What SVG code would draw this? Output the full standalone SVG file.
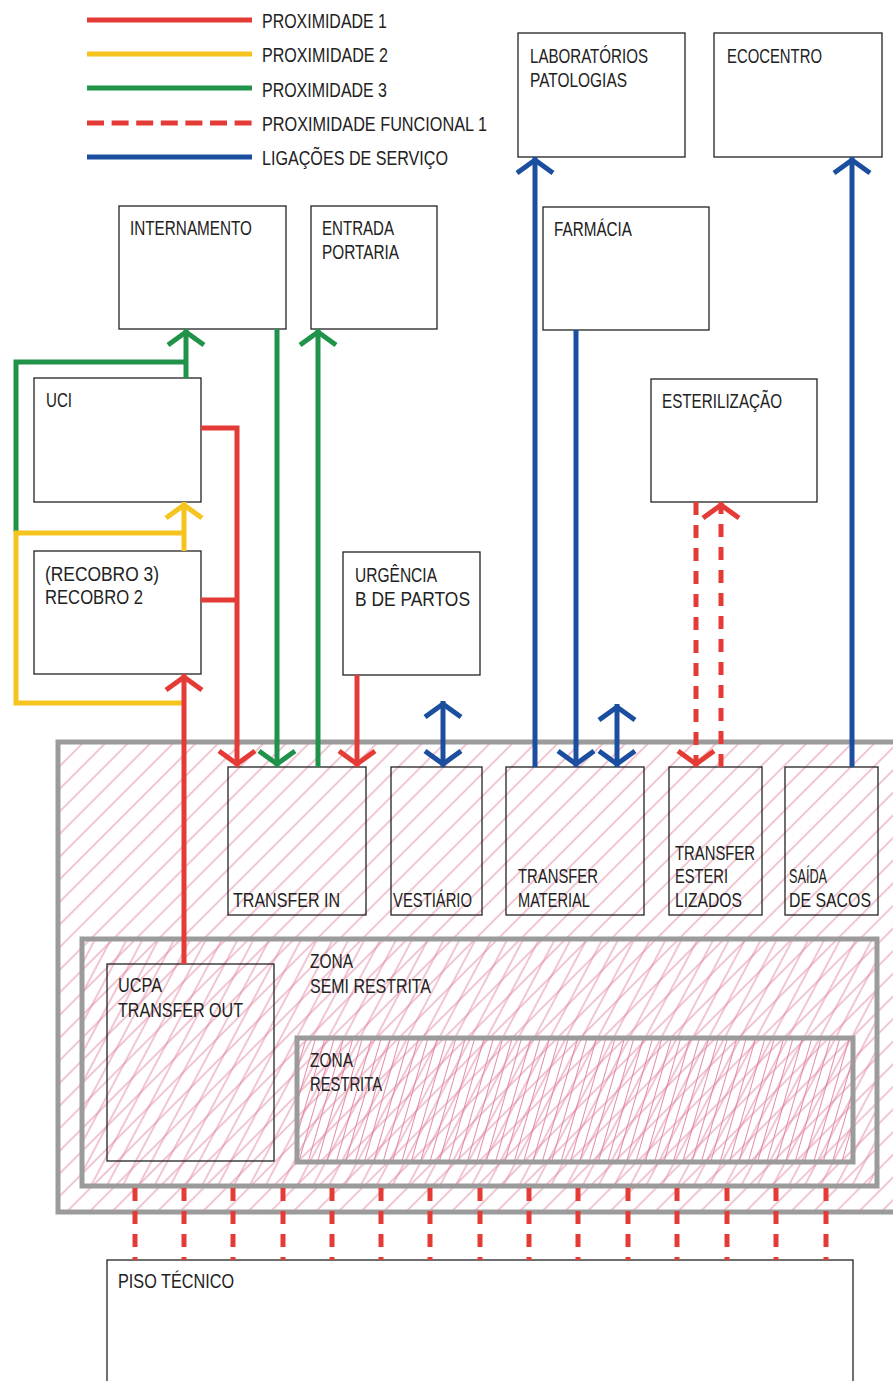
<svg xmlns="http://www.w3.org/2000/svg" width="893" height="1381" viewBox="0 0 893 1381">
<style>
text{font-family:"Liberation Sans",Arial,sans-serif;font-size:21px;fill:#222}
.box{fill:none;stroke:#222;stroke-width:1.3}
.zone{stroke:#9b9b9b;stroke-width:5}
.c{fill:none;stroke-width:5}
.r{stroke:#e53b36}
.y{stroke:#f6c41f}
.g{stroke:#20924a}
.b{stroke:#1b4e9f}
.d{stroke-dasharray:13 10}
</style>
<defs>
<pattern id="hA" width="16" height="16" patternUnits="userSpaceOnUse" patternTransform="rotate(45)"><line x1="8" y1="0" x2="8" y2="16" stroke="#e07f9c" stroke-width="0.9"/></pattern>
<pattern id="hB" width="14" height="14" patternUnits="userSpaceOnUse" patternTransform="rotate(28)"><line x1="7" y1="0" x2="7" y2="14" stroke="#e07f9c" stroke-width="0.9"/></pattern>
<pattern id="hC" width="9" height="9" patternUnits="userSpaceOnUse" patternTransform="rotate(16)"><line x1="4.5" y1="0" x2="4.5" y2="9" stroke="#e07f9c" stroke-width="0.9"/></pattern>
<marker id="mR" viewBox="-20 -20 40 40" markerWidth="40" markerHeight="40" markerUnits="userSpaceOnUse" refX="3" refY="0" orient="auto-start-reverse"><path d="M-13,-18 L0,0 L-13,18" fill="none" stroke="#e53b36" stroke-width="5"/></marker>
<marker id="mY" viewBox="-20 -20 40 40" markerWidth="40" markerHeight="40" markerUnits="userSpaceOnUse" refX="3" refY="0" orient="auto-start-reverse"><path d="M-13,-18 L0,0 L-13,18" fill="none" stroke="#f6c41f" stroke-width="5"/></marker>
<marker id="mG" viewBox="-20 -20 40 40" markerWidth="40" markerHeight="40" markerUnits="userSpaceOnUse" refX="3" refY="0" orient="auto-start-reverse"><path d="M-13,-18 L0,0 L-13,18" fill="none" stroke="#20924a" stroke-width="5"/></marker>
<marker id="mB" viewBox="-20 -20 40 40" markerWidth="40" markerHeight="40" markerUnits="userSpaceOnUse" refX="3" refY="0" orient="auto-start-reverse"><path d="M-13,-18 L0,0 L-13,18" fill="none" stroke="#1b4e9f" stroke-width="5"/></marker>
</defs>
<rect width="893" height="1381" fill="#fff"/>

<g id="legend">
<line class="c r" x1="87" y1="20" x2="252" y2="20"/>
<line class="c y" x1="87" y1="54" x2="252" y2="54"/>
<line class="c g" x1="87" y1="88" x2="252" y2="88"/>
<line class="c r" x1="87" y1="123" x2="252" y2="123" stroke-dasharray="17 7.6"/>
<line class="c b" x1="87" y1="157" x2="252" y2="157"/>
<text x="262" y="28" textLength="125" lengthAdjust="spacingAndGlyphs">PROXIMIDADE 1</text>
<text x="262" y="62" textLength="126" lengthAdjust="spacingAndGlyphs">PROXIMIDADE 2</text>
<text x="262" y="97" textLength="125" lengthAdjust="spacingAndGlyphs">PROXIMIDADE 3</text>
<text x="262" y="131" textLength="225" lengthAdjust="spacingAndGlyphs">PROXIMIDADE FUNCIONAL 1</text>
<text x="262" y="165" textLength="186" lengthAdjust="spacingAndGlyphs">LIGAÇÕES DE SERVIÇO</text>
</g>

<g id="zones">
<rect x="58" y="742" width="835" height="470" fill="url(#hA)"/>
<rect x="82" y="939" width="795" height="247" fill="url(#hB)"/>
<rect x="297" y="1038" width="556" height="124" fill="url(#hC)"/>
<path class="zone" d="M893,742 H58 V1212 H893" fill="none"/>
<g id="zona-semi-restrita">
<rect class="zone" x="82" y="939" width="795" height="247" fill="none"/>
<text x="310" y="968" textLength="43" lengthAdjust="spacingAndGlyphs">ZONA</text>
<text x="310" y="993" textLength="121" lengthAdjust="spacingAndGlyphs">SEMI RESTRITA</text>
</g>
<g id="zona-restrita">
<rect class="zone" x="297" y="1038" width="556" height="124" fill="none"/>
<text x="310" y="1067" textLength="43" lengthAdjust="spacingAndGlyphs">ZONA</text>
<text x="310" y="1091" textLength="72" lengthAdjust="spacingAndGlyphs">RESTRITA</text>
</g>
</g>

<g id="laboratorios"><rect class="box" x="518" y="33" width="167" height="124"/><text x="530" y="63" textLength="118" lengthAdjust="spacingAndGlyphs">LABORATÓRIOS</text><text x="530" y="87" textLength="97" lengthAdjust="spacingAndGlyphs">PATOLOGIAS</text></g>
<g id="ecocentro"><rect class="box" x="714" y="33" width="168" height="124"/><text x="727" y="63" textLength="95" lengthAdjust="spacingAndGlyphs">ECOCENTRO</text></g>
<g id="internamento"><rect class="box" x="119" y="206" width="167" height="123"/><text x="130" y="235" textLength="122" lengthAdjust="spacingAndGlyphs">INTERNAMENTO</text></g>
<g id="entrada"><rect class="box" x="311" y="206" width="126" height="123"/><text x="322" y="235" textLength="72" lengthAdjust="spacingAndGlyphs">ENTRADA</text><text x="322" y="259" textLength="77" lengthAdjust="spacingAndGlyphs">PORTARIA</text></g>
<g id="farmacia"><rect class="box" x="543" y="207" width="166" height="123"/><text x="554" y="236" textLength="78" lengthAdjust="spacingAndGlyphs">FARMÁCIA</text></g>
<g id="uci"><rect class="box" x="34" y="378" width="167" height="124"/><text x="46" y="407" textLength="26" lengthAdjust="spacingAndGlyphs">UCI</text></g>
<g id="esterilizacao"><rect class="box" x="651" y="379" width="166" height="123"/><text x="662" y="408" textLength="120" lengthAdjust="spacingAndGlyphs">ESTERILIZAÇÃO</text></g>
<g id="recobro"><rect class="box" x="34" y="551" width="167" height="123"/><text x="45" y="581" textLength="114" lengthAdjust="spacingAndGlyphs">(RECOBRO 3)</text><text x="45" y="604" textLength="98" lengthAdjust="spacingAndGlyphs">RECOBRO 2</text></g>
<g id="urgencia"><rect class="box" x="343" y="552" width="137" height="123"/><text x="355" y="582" textLength="82" lengthAdjust="spacingAndGlyphs">URGÊNCIA</text><text x="355" y="606" textLength="115" lengthAdjust="spacingAndGlyphs">B DE PARTOS</text></g>
<g id="transfer-in"><rect class="box" x="228" y="767" width="138" height="148"/><text x="233" y="907" textLength="107" lengthAdjust="spacingAndGlyphs">TRANSFER IN</text></g>
<g id="vestiario"><rect class="box" x="391" y="767" width="91" height="148"/><text x="393" y="907" textLength="79" lengthAdjust="spacingAndGlyphs">VESTIÁRIO</text></g>
<g id="transfer-material"><rect class="box" x="506" y="767" width="138" height="148"/><text x="518" y="883" textLength="80" lengthAdjust="spacingAndGlyphs">TRANSFER</text><text x="518" y="907" textLength="72" lengthAdjust="spacingAndGlyphs">MATERIAL</text></g>
<g id="transfer-esterilizados"><rect class="box" x="669" y="767" width="93" height="148"/><text x="675" y="860" textLength="80" lengthAdjust="spacingAndGlyphs">TRANSFER</text><text x="675" y="883" textLength="53" lengthAdjust="spacingAndGlyphs">ESTERI</text><text x="675" y="907" textLength="67" lengthAdjust="spacingAndGlyphs">LIZADOS</text></g>
<g id="saida-sacos"><rect class="box" x="785" y="767" width="93" height="148"/><text x="789" y="883" textLength="38" lengthAdjust="spacingAndGlyphs">SAÍDA</text><text x="789" y="907" font-size="19" textLength="82" lengthAdjust="spacingAndGlyphs">DE SACOS</text></g>
<g id="ucpa"><rect class="box" x="107" y="964" width="167" height="197"/><text x="118" y="992" textLength="44" lengthAdjust="spacingAndGlyphs">UCPA</text><text x="118" y="1017" textLength="125" lengthAdjust="spacingAndGlyphs">TRANSFER OUT</text></g>
<g id="piso-tecnico"><rect class="box" x="107" y="1260" width="746" height="140"/><text x="118" y="1288" textLength="116" lengthAdjust="spacingAndGlyphs">PISO TÉCNICO</text></g>

<g id="connectors">
<path class="c g" d="M16,532 V362 H186"/>
<path class="c g" d="M186,378 V329" marker-end="url(#mG)"/>
<path class="c g" d="M277,329 V767" marker-end="url(#mG)"/>
<path class="c g" d="M318,767 V329" marker-end="url(#mG)"/>
<path class="c y" d="M184,551 V502" marker-end="url(#mY)"/>
<path class="c y" d="M14,533 H184"/>
<path class="c y" d="M16,531 V703 H184"/>
<path class="c r" d="M201,428 H237 V767" marker-end="url(#mR)"/>
<path class="c r" d="M201,600 H237"/>
<path class="c r" d="M184,964 V674" marker-end="url(#mR)"/>
<path class="c r" d="M357,675 V767" marker-end="url(#mR)"/>
<path class="c r d" d="M696,502 V767" marker-end="url(#mR)"/>
<path class="c r d" d="M721,767 V502" marker-end="url(#mR)"/>
<g class="c r" stroke-dasharray="13 10">
<line x1="135" y1="1188" x2="135" y2="1260"/>
<line x1="184" y1="1188" x2="184" y2="1260"/>
<line x1="233" y1="1188" x2="233" y2="1260"/>
<line x1="283" y1="1188" x2="283" y2="1260"/>
<line x1="332" y1="1188" x2="332" y2="1260"/>
<line x1="381" y1="1188" x2="381" y2="1260"/>
<line x1="430" y1="1188" x2="430" y2="1260"/>
<line x1="480" y1="1188" x2="480" y2="1260"/>
<line x1="529" y1="1188" x2="529" y2="1260"/>
<line x1="578" y1="1188" x2="578" y2="1260"/>
<line x1="628" y1="1188" x2="628" y2="1260"/>
<line x1="677" y1="1188" x2="677" y2="1260"/>
<line x1="727" y1="1188" x2="727" y2="1260"/>
<line x1="776" y1="1188" x2="776" y2="1260"/>
<line x1="826" y1="1188" x2="826" y2="1260"/>
</g>
<path class="c b" d="M535,767 V157" marker-end="url(#mB)"/>
<path class="c b" d="M576,330 V767" marker-end="url(#mB)"/>
<path class="c b" d="M852,767 V157" marker-end="url(#mB)"/>
<path class="c b" d="M443,701 V767" marker-start="url(#mB)" marker-end="url(#mB)"/>
<path class="c b" d="M617,704 V767" marker-start="url(#mB)" marker-end="url(#mB)"/>
</g>
</svg>
